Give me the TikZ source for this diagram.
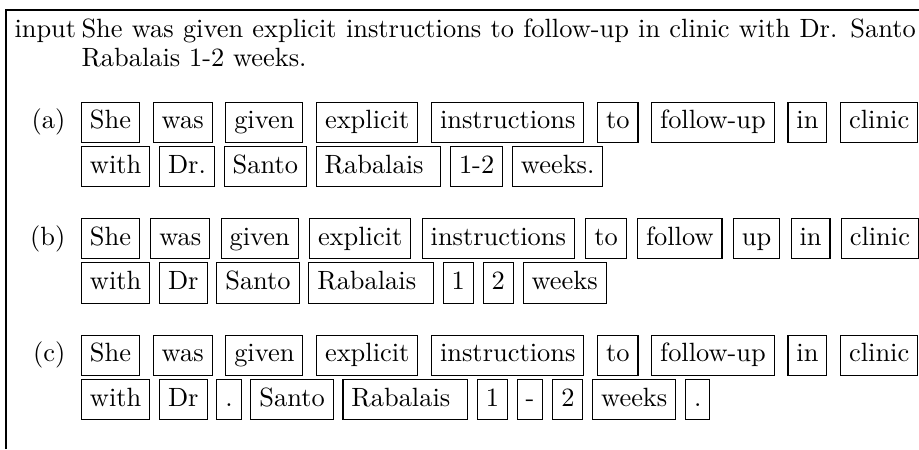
\documentclass[tikz,border=0pt]{standalone}
\usetikzlibrary{positioning}

\tikzset{
  tok/.style={draw, line width=0.4pt, inner sep=3.2pt,
    text height=6.94pt, text depth=1.94pt},
  lab/.style={inner sep=0pt},
}
% one line of boxed tokens: name, y, gap, first token, other tokens
\newcommand{\tokline}[5]{%
  \node[tok, anchor=west] (#1-1) at (81,#2) {#4};
  \foreach \w [count=\i from 2, remember=\i as \j (initially 1)] in {#5}
    \node[tok, right=#3 of #1-\j] (#1-\i) {\w};
}

\begin{document}
\begin{tikzpicture}[x=0.37879pt, y=-0.37879pt]
  \useasboundingbox (0,0) rectangle (919,449);
  % table rules
  \draw[line width=0.4pt] (6,449) -- (6,10) -- (919,10);
  % raw sentence
  \node[lab, anchor=base west, text width=316pt, align=justify,
    execute at begin node=\setlength{\baselineskip}{11pt}] (src) at (81,37.5)
    {She was given explicit instructions to follow-up in clinic with Dr. Santo Rabalais 1-2 weeks.};
  \node[lab, anchor=base west] (srclab) at (14,37.5) {input};
  % (a) whitespace split
  \tokline{a1}{122.2}{4.81pt}{She}{was,given,explicit,instructions,to,follow-up,in,clinic}
  \tokline{a2}{166.4}{3.33pt}{with}{Dr.,Santo,Rabalais\hspace*{3.33pt},1-2,weeks.}
  \node[lab, base left=5.7pt of a1-1] (laba) {(a)};
  % (b) punctuation dropped
  \tokline{b1}{238.7}{3.92pt}{She}{was,given,explicit,instructions,to,follow,up,in,clinic}
  \tokline{b2}{282.9}{3.33pt}{with}{Dr,Santo,Rabalais\hspace*{3.33pt},1,2,weeks}
  \node[lab, base left=5.7pt of b1-1] (labb) {(b)};
  % (c) punctuation kept as tokens
  \tokline{c1}{355.2}{4.81pt}{She}{was,given,explicit,instructions,to,follow-up,in,clinic}
  \tokline{c2}{399.4}{3.33pt}{with}{Dr,.,Santo,Rabalais\hspace*{3.33pt},1,-,2,weeks,.}
  \node[lab, base left=5.7pt of c1-1] (labc) {(c)};
\end{tikzpicture}
\end{document}
